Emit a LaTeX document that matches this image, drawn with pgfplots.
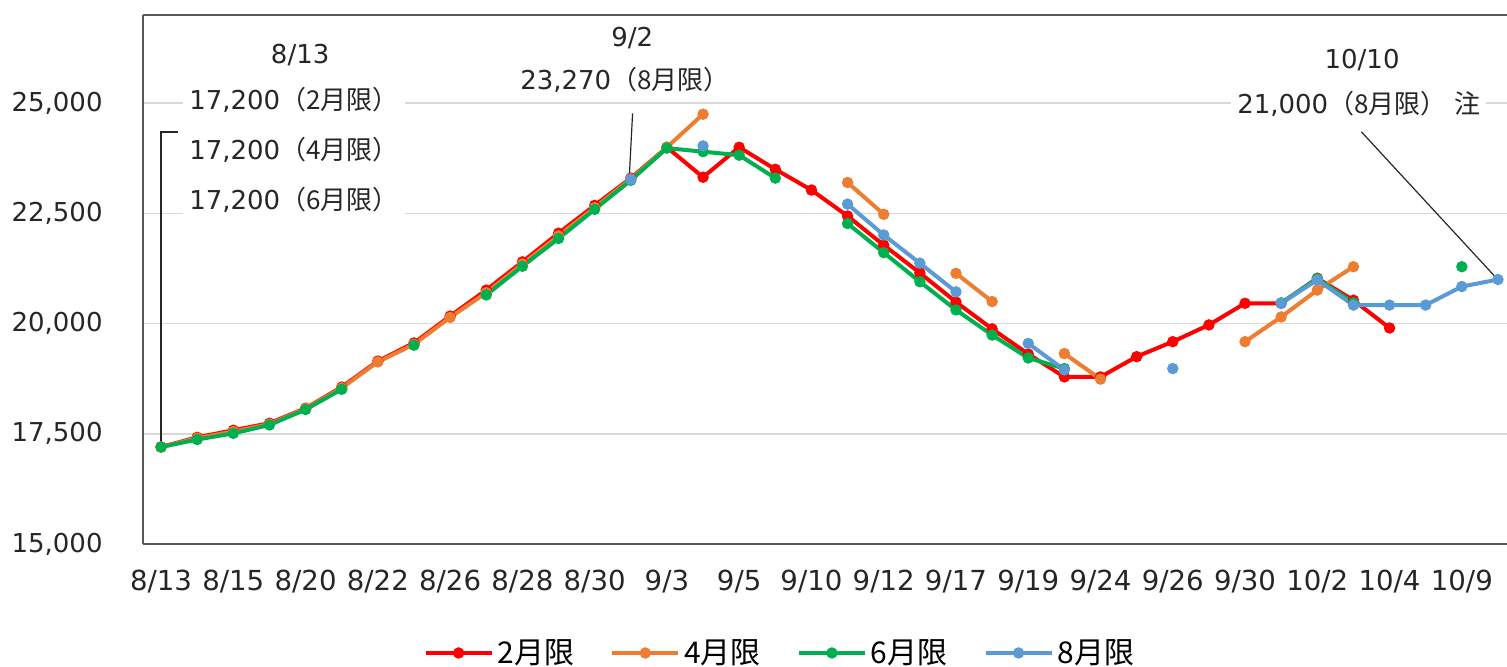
\documentclass[border=0pt]{standalone}
\usepackage{fontspec}
\setmainfont{DejaVu Sans}
\newfontfamily\jp{Noto Sans CJK JP}
\usepackage{pgfplots}
\usepackage{pgfplotstable}
\pgfplotsset{compat=1.18}
\definecolor{cRed}{HTML}{FF0000}
\definecolor{cOrange}{HTML}{ED7D31}
\definecolor{cGreen}{HTML}{00B050}
\definecolor{cBlue}{HTML}{5B9BD5}
\definecolor{axiscol}{HTML}{595959}
\definecolor{gridcol}{HTML}{D9D9D9}

\pgfplotstableread{
x r o g b
0 17200 17200 17200 nan
1 17420 17400 17370 nan
2 17580 17550 17510 nan
3 17740 17720 17700 nan
4 18080 18070 18050 nan
5 18560 18540 18510 nan
6 19150 19130 nan nan
7 19560 19530 19510 nan
8 20170 20140 nan nan
9 20760 20700 20650 nan
10 21400 21350 21300 nan
11 22050 21990 21930 nan
12 22680 22630 22590 nan
13 23300 23280 23250 23270
14 24000 24000 23980 nan
15 23320 24750 23900 24030
16 24000 nan 23820 nan
17 23500 nan 23300 nan
18 23030 nan nan nan
19 22440 23200 22270 22710
20 21780 22480 21610 22010
21 21150 nan 20950 21370
22 20490 21140 20310 20720
23 19880 20500 19740 nan
24 19310 nan 19220 19550
25 18790 19320 18980 18950
26 18790 18740 nan nan
27 19250 nan nan nan
28 19590 nan nan 18980
29 19970 nan nan nan
30 20460 19590 nan nan
31 20460 20150 20470 20460
32 21030 20760 21020 20990
33 20530 21290 20470 20420
34 19900 nan nan 20420
35 nan nan nan 20420
36 nan nan 21290 20840
37 nan nan nan 21000
}\data

\begin{document}
\begin{tikzpicture}
\begin{axis}[
  scale only axis,
  width=682pt, height=264.5pt,
  xmin=-0.5, xmax=37.25,
  ymin=15000, ymax=27000,
  clip=false,
  unbounded coords=jump,
  axis x line*=bottom, axis y line*=left,
  axis line style={axiscol, line width=1pt},
  major tick length=0pt,
  xtick={0,2,...,36},
  xticklabels={8/13,8/15,8/20,8/22,8/26,8/28,8/30,9/3,9/5,9/10,9/12,9/17,9/19,9/24,9/26,9/30,10/2,10/4,10/9},
  ytick={15000,17500,20000,22500,25000},
  scaled y ticks=false,
  /pgf/number format/1000 sep={,},
  /pgf/number format/assume math mode=true,
  ymajorgrids,
  grid style={gridcol, line width=0.8pt},
  ticklabel style={font=\fontsize{13}{15.6}\selectfont, text=black!85},
  xticklabel style={anchor=north, inner sep=0pt, yshift=-13pt, font=\fontsize{13.8}{16}\selectfont},
  yticklabel style={anchor=east, inner sep=0pt, xshift=-20pt},
  legend columns=4,
  legend style={at={(0.4677,-0.206)}, anchor=center, draw=none, fill=none,
    font=\jp\fontsize{15}{18}\selectfont,
    /tikz/every even column/.append style={column sep=16pt},
    nodes={inner xsep=2pt}},
  legend image code/.code={\draw[mark repeat=2,mark phase=2] plot coordinates {(0pt,0pt) (16.5pt,0pt) (33pt,0pt)};},
  every axis plot/.append style={line width=2pt, mark=*, mark size=1.8pt},
]
\addplot[cRed, mark options={fill=cRed}] table[x=x,y=r]{\data};
\addplot[cOrange, mark options={fill=cOrange}] table[x=x,y=o]{\data};
\addplot[cGreen, mark options={fill=cGreen}] table[x=x,y=g]{\data};
\addplot[cBlue, mark options={fill=cBlue}] table[x=x,y=b]{\data};
\legend{2月限,4月限,6月限,8月限}

\coordinate (SW) at (rel axis cs:0,0);
\coordinate (NE) at (rel axis cs:1,1);
\draw[axiscol, line width=1pt] (rel axis cs:0,1) -- (rel axis cs:1,1);

% annotations
\begin{scope}[every node/.style={font=\fontsize{13}{15.6}\selectfont, text=black!85}]
\draw[black!85, line width=0.7pt] (axis cs:0.47,24345) -- (axis cs:0,24345) -- (axis cs:0,17200);
\node at (axis cs:3.85,26090) {8/13};
\node[fill=white, inner xsep=3pt, inner ysep=1pt] at (axis cs:3.68,25070) {17,200{\jp （2月限）}};
\node[fill=white, inner xsep=3pt, inner ysep=1pt] at (axis cs:3.68,23935) {17,200{\jp （4月限）}};
\node[fill=white, inner xsep=3pt, inner ysep=1pt] at (axis cs:3.68,22800) {17,200{\jp （6月限）}};
\draw[black!85, line width=0.6pt] (axis cs:13.05,24770) -- (axis cs:12.96,23350);
\node at (axis cs:13.04,26476) {9/2};
\node at (axis cs:12.84,25520) {23,270{\jp （8月限）}};
\draw[black!85, line width=0.6pt] (axis cs:33.22,24350) -- (axis cs:36.96,21030);
\node at (axis cs:33.24,25977) {10/10};
\node[fill=white, inner xsep=3pt, inner ysep=1pt] at (axis cs:33.15,24980) {21,000{\jp （8月限）\hspace{0.3em}注}};
\end{scope}
\end{axis}
\pgfresetboundingbox
\useasboundingbox ([xshift=-71.5pt,yshift=-61pt]SW) rectangle ([yshift=7.5pt]NE);
\end{tikzpicture}
\end{document}
